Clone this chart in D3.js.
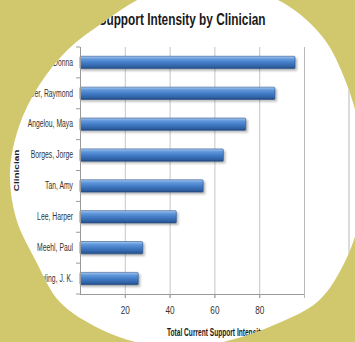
<!DOCTYPE html>
<html>
<head>
<meta charset="utf-8">
<script src="https://cdn.jsdelivr.net/npm/d3@7"></script>
<style>
  html, body { margin: 0; padding: 0; background: #d1c86d; }
  svg { display: block; }
</style>
</head>
<body>
<svg id="chart" width="355" height="342"></svg>
<script>
// Clinicians, top to bottom, and their total current support intensity
const clinicians = ["Tartt, Donna", "Carver, Raymond", "Angelou, Maya", "Borges, Jorge",
                    "Tan, Amy", "Lee, Harper", "Meehl, Paul", "Rowling, J. K."];
const supportIntensity = [96, 87, 74, 64, 55, 43, 28, 26];
const gridValues = [20, 40, 60, 80, 100];
const tickLabelValues = [20, 40, 60, 80];
const chartTitle = "Support Intensity by Clinician";
const xAxisTitle = "Total Current Support Intensity Score";
const yAxisTitle = "Clinician";

const W = 355, H = 342;
const plot = { left: 80, right: 304, top: 47, bottom: 294 };
const font = "'Liberation Sans', Arial, sans-serif";

// rounded white frame: radius every 15 degrees, starting at the left and going clockwise
const frameCenter = [190, 172];
const frameRadii = [180, 177, 174, 173, 173, 181, 188, 192, 193, 189, 180, 175,
                    174, 176, 179, 182, 175, 173, 175, 178, 181, 184, 178, 180];
const frameOutline = frameRadii.map((r, i) => {
  const a = Math.PI + i * Math.PI / 12;
  return [frameCenter[0] + r * Math.cos(a), frameCenter[1] + r * Math.sin(a)];
});

const svg = d3.select("#chart");
const defs = svg.append("defs");
const framePath = d3.line().curve(d3.curveCatmullRomClosed.alpha(0.5))(frameOutline);

defs.append("clipPath").attr("id", "frameClip").append("path").attr("d", framePath);

const grad = defs.append("linearGradient").attr("id", "barFill")
  .attr("x1", 0).attr("y1", 0).attr("x2", 0).attr("y2", 1);
[[0, "#a9c8ee"], [0.22, "#6199dc"], [0.55, "#4079c4"], [0.85, "#2f61a2"], [1, "#1f467c"]]
  .forEach(([o, c]) => grad.append("stop").attr("offset", o).attr("stop-color", c));

defs.append("filter").attr("id", "barShadow").attr("x", "-10%").attr("y", "-50%")
  .attr("width", "130%").attr("height", "200%")
  .append("feGaussianBlur").attr("stdDeviation", 1);

svg.append("rect").attr("width", W).attr("height", H).attr("fill", "#d1c86d");
svg.append("path").attr("d", framePath).attr("fill", "#ffffff");

const g = svg.append("g").attr("clip-path", "url(#frameClip)");

const x = d3.scaleLinear().domain([0, 100]).range([plot.left, plot.right]);
const y = d3.scaleBand().domain(clinicians).range([plot.top, plot.bottom])
  .paddingInner(0.6).paddingOuter(0.3);

// chart area border on the right
g.append("line")
  .attr("x1", 349).attr("x2", 349).attr("y1", 0).attr("y2", H)
  .attr("stroke", "#c4c4c4").attr("stroke-width", 1.2);

// vertical gridlines
g.append("g").selectAll("line").data(gridValues).join("line")
  .attr("x1", d => x(d) + 0.5).attr("x2", d => x(d) + 0.5)
  .attr("y1", plot.top).attr("y2", plot.bottom + 4)
  .attr("stroke", d => d === 100 ? "#b8b8b8" : "#c6c6c6").attr("stroke-width", 1);

// bars
const rows = clinicians.map((name, i) => ({ name, value: supportIntensity[i] }));
const bars = g.append("g");
bars.selectAll("rect.shadow").data(rows).join("rect").attr("class", "shadow")
  .attr("x", x(0) + 1).attr("y", d => y(d.name) + 2)
  .attr("width", d => x(d.value) - x(0) + 1).attr("height", y.bandwidth())
  .attr("fill", "rgba(40,40,40,0.35)").attr("filter", "url(#barShadow)");
bars.selectAll("rect.bar").data(rows).join("rect").attr("class", "bar")
  .attr("x", x(0)).attr("y", d => y(d.name))
  .attr("width", d => x(d.value) - x(0)).attr("height", y.bandwidth())
  .attr("rx", 1)
  .attr("fill", "url(#barFill)").attr("stroke", "#2b5592").attr("stroke-width", 0.6);

// bottom axis
const xAxis = g.append("g").attr("transform", `translate(0,${plot.bottom})`)
  .call(d3.axisBottom(x).tickValues(tickLabelValues).tickSize(4).tickSizeOuter(0));
xAxis.select(".domain").attr("stroke", "#9a9a9a").attr("d", `M${plot.left},0.5H${plot.right}`);
xAxis.selectAll(".tick line").attr("stroke", "#9a9a9a");
xAxis.selectAll("text")
  .attr("font-family", font).attr("font-size", 10.5).attr("fill", "#333")
  .attr("y", 13).attr("transform", "scale(0.78,1)");

// left axis with category labels
const yAxis = g.append("g").attr("transform", `translate(${plot.left},0)`)
  .call(d3.axisLeft(y).tickSize(0).tickSizeOuter(0));
yAxis.select(".domain").attr("stroke", "#9a9a9a")
  .attr("d", `M0.5,${plot.top}V${plot.bottom}`);
const labelSx = 0.68;
yAxis.selectAll("text")
  .attr("font-family", font).attr("font-size", 10).attr("fill", "#333")
  .attr("x", -7 / labelSx).attr("transform", `scale(${labelSx},1)`);
// tick marks between categories
const boundaries = d3.range(clinicians.length + 1).map(i => plot.top + i * y.step());
yAxis.append("g").selectAll("line").data(boundaries).join("line")
  .attr("x1", -4).attr("x2", 0).attr("y1", d => d).attr("y2", d => d)
  .attr("stroke", "#9a9a9a");

// titles
g.append("text").text(chartTitle)
  .attr("transform", "translate(182,25) scale(0.74,1)")
  .attr("text-anchor", "middle").attr("font-family", font)
  .attr("font-size", 16).attr("font-weight", "bold").attr("fill", "#1a1a1a");

g.append("text").text(xAxisTitle)
  .attr("transform", "translate(167,336) scale(0.66,1)")
  .attr("font-family", font).attr("font-size", 10).attr("font-weight", "bold").attr("fill", "#1a1a1a");

g.append("text").text(yAxisTitle)
  .attr("transform", `translate(19,${(plot.top + plot.bottom) / 2}) scale(0.8,1) rotate(-90)`)
  .attr("text-anchor", "middle").attr("font-family", font)
  .attr("font-size", 10).attr("font-weight", "bold").attr("fill", "#1a1a1a");
</script>
</body>
</html>
